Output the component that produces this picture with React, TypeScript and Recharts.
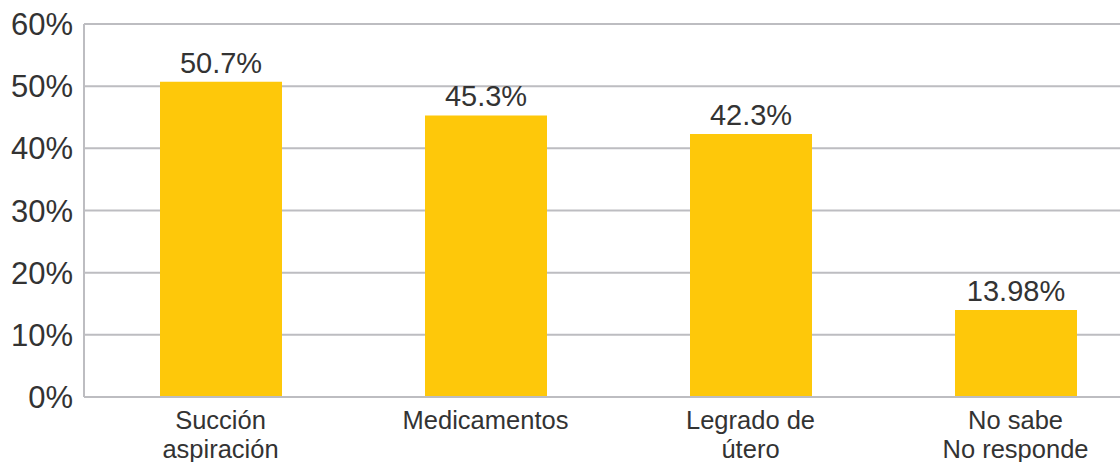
import React from "react";
import { BarChart, Bar, XAxis, YAxis, CartesianGrid, LabelList } from "recharts";

const categories: string[][] = [
  ["Succión", "aspiración"],
  ["Medicamentos"],
  ["Legrado de", "útero"],
  ["No sabe", "No responde"],
];
const values: number[] = [50.7, 45.3, 42.3, 13.98];
const valueLabels: string[] = ["50.7%", "45.3%", "42.3%", "13.98%"];
const yTicks: number[] = [0, 10, 20, 30, 40, 50, 60];

const data = categories.map((c, i) => ({
  name: c.join("\n"),
  value: values[i],
  label: valueLabels[i],
}));

const FONT = "'Liberation Sans', Arial, Helvetica, sans-serif";
const GRID = "#bdbdc1";
const TEXT = "#333333";

const XTick = (props: any) => {
  const { x, payload } = props;
  const lines = String(payload.value).split("\n");
  return (
    <g transform={`translate(${x},397)`}>
      <text textAnchor="middle" fill={TEXT} fontSize={25.5} fontFamily={FONT}>
        {lines.map((l, i) => (
          <tspan key={i} x={0} y={32 + i * 29}>
            {l}
          </tspan>
        ))}
      </text>
    </g>
  );
};

export default function App() {
  return (
    <div
      style={{
        position: "absolute",
        left: 0,
        top: 0,
        width: 1120,
        height: 462,
        overflow: "hidden",
        background: "#fff",
      }}
    >
      <BarChart
        width={1150}
        height={462}
        data={data}
        margin={{ top: 24, right: 0, bottom: 0, left: 0 }}
        barSize={122}
      >
        <CartesianGrid vertical={false} stroke={GRID} strokeWidth={2} />
        <XAxis
          dataKey="name"
          height={65}
          padding={{ left: 4, right: 2 }}
          tickLine={false}
          axisLine={{ stroke: GRID, strokeWidth: 2 }}
          tick={<XTick />}
          interval={0}
        />
        <YAxis
          width={84}
          domain={[0, 60]}
          ticks={yTicks}
          tickFormatter={(v: number) => `${v}%`}
          tickLine={false}
          tickSize={0}
          tickMargin={11}
          axisLine={{ stroke: GRID, strokeWidth: 2 }}
          tick={{ fill: TEXT, fontSize: 31, fontFamily: FONT }}
          interval={0}
        />
        <Bar dataKey="value" fill="#fec80a" isAnimationActive={false}>
          <LabelList
            dataKey="label"
            position="top"
            offset={9}
            fill={TEXT}
            fontSize={29}
            fontFamily={FONT}
          />
        </Bar>
      </BarChart>
    </div>
  );
}
